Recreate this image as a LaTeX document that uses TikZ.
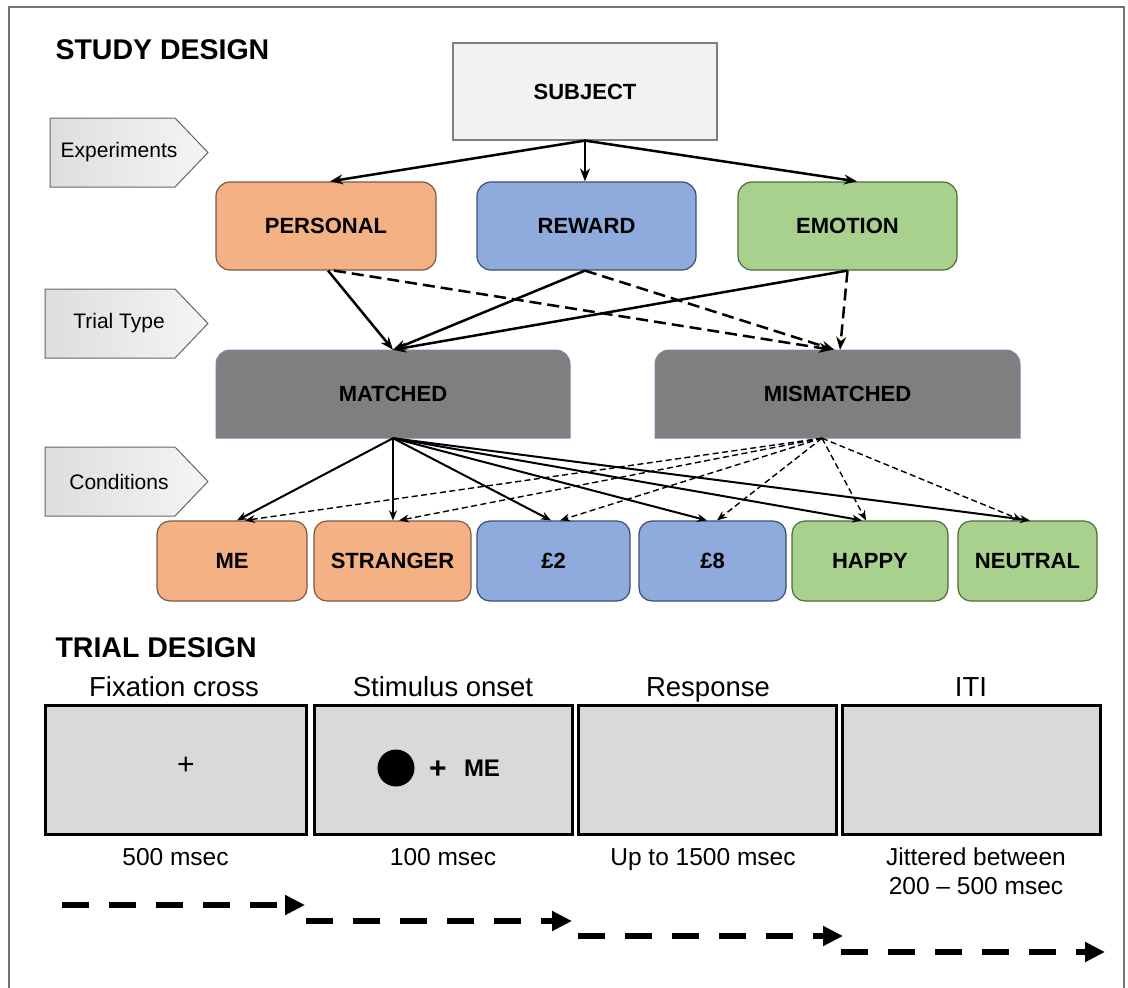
\documentclass[tikz,border=0pt]{standalone}
\usepackage{fontspec}
\setmainfont{Liberation Sans}
\usetikzlibrary{arrows.meta,positioning}

\definecolor{subjfill}{HTML}{F2F2F2}
\definecolor{persfill}{HTML}{F4B183}
\definecolor{rewfill}{HTML}{8FAADC}
\definecolor{emofill}{HTML}{A9D18E}
\definecolor{typefill}{HTML}{7F7F7F}
\definecolor{screenfill}{HTML}{D9D9D9}
\definecolor{persedge}{HTML}{7A5A44}
\definecolor{rewedge}{HTML}{3A4E75}
\definecolor{emoedge}{HTML}{4F6B3A}
\definecolor{typeedge}{HTML}{7388AB}

\begin{document}
\begin{tikzpicture}[x=1pt,y=-1pt]
\tikzset{
  boxtext/.style={font=\fontsize{22}{26}\selectfont\bfseries},
  exbox/.style={boxtext, draw, rounded corners=14pt, line width=1.2pt, minimum height=88pt, inner sep=0pt},
  condbox/.style={boxtext, draw, rounded corners=13pt, line width=1.2pt, minimum height=80pt, inner sep=0pt},
  sidetag/.style={draw=black!60, line width=1pt, left color=black!13, right color=black!4},
  screenbox/.style={draw, fill=screenfill, line width=3pt, minimum width=258pt, minimum height=129pt, inner sep=0pt},
  solidarr/.style={-{Stealth[length=13pt,width=10pt]}, line width=2.5pt},
  dasharr/.style={solidarr, dash pattern=on 12pt off 6pt},
  thinarr/.style={-{Stealth[length=10pt,width=8pt]}, line width=2pt},
  thindash/.style={thinarr, line width=1.4pt, dash pattern=on 6pt off 3.5pt},
  timearr/.style={-{Triangle[length=20pt,width=19pt]}, line width=6pt, dash pattern=on 27pt off 20pt},
  steplab/.style={anchor=base, font=\fontsize{27.5}{30}\selectfont},
  timelab/.style={anchor=base, font=\fontsize{24.5}{29}\selectfont},
  titletext/.style={anchor=base west, font=\fontsize{28.5}{32}\selectfont\bfseries}
}

\useasboundingbox (0,0) rectangle (1128,988);
\draw[black!55, line width=1.2pt] (9,1000) -- (9,7) -- (1124,7) -- (1124,1000);

\node[titletext] (studytitle) at (52,59) {STUDY DESIGN};
\node[titletext] (trialtitle) at (52,657) {TRIAL DESIGN};

\foreach \nm/\xl/\yt/\lab in {exp/50/118/Experiments, ttype/45/289/Trial Type, cond/45/447/Conditions}{
  \draw[sidetag] (\xl,\yt) -- (175,\yt) -- (208,\yt+34.5) -- (175,\yt+69) -- (\xl,\yt+69) -- cycle;
  \node[font=\fontsize{21}{25}\selectfont] (\nm) at (119,\yt+34.5) {\lab};
}

\node[exbox, fill=subjfill, draw=black!50, rounded corners=0pt, minimum width=264pt, minimum height=97pt] (subject) at (585,91.5) {SUBJECT};
\node[exbox, fill=persfill, draw=persedge, minimum width=220pt] (personal) at (326,226) {PERSONAL};
\node[exbox, fill=rewfill, draw=rewedge, minimum width=219pt] (reward) at (586.5,226) {REWARD};
\node[exbox, fill=emofill, draw=emoedge, minimum width=219pt] (emotion) at (847.5,226) {EMOTION};

\filldraw[fill=typefill, draw=typeedge, line width=1pt] (216,438) [rounded corners=14pt] -- (216,350) -- (570,350) [sharp corners] -- (570,438) -- cycle;
\filldraw[fill=typefill, draw=typeedge, line width=1pt] (655,438) [rounded corners=14pt] -- (655,350) -- (1020,350) [sharp corners] -- (1020,438) -- cycle;
\node[boxtext, minimum width=354pt, minimum height=88pt, inner sep=0pt] (matched) at (393,394) {MATCHED};
\node[boxtext, minimum width=365pt, minimum height=88pt, inner sep=0pt] (mismatched) at (837.5,394) {MISMATCHED};

\node[condbox, fill=persfill, draw=persedge, minimum width=150pt] (me) at (232,561) {ME};
\node[condbox, fill=persfill, draw=persedge, minimum width=157pt] (stranger) at (392.5,561) {STRANGER};
\node[condbox, fill=rewfill, draw=rewedge, minimum width=153pt] (two) at (553.5,561) {£2};
\node[condbox, fill=rewfill, draw=rewedge, minimum width=147pt] (eight) at (712.5,561) {£8};
\node[condbox, fill=emofill, draw=emoedge, minimum width=156pt] (happy) at (870,561) {HAPPY};
\node[condbox, fill=emofill, draw=emoedge, minimum width=139pt] (neutral) at (1027.5,561) {NEUTRAL};

\draw[solidarr] (subject.south) -- ([xshift=4pt]personal.north);
\draw[solidarr] (subject.south) -- ([xshift=-1.5pt]reward.north);
\draw[solidarr] (subject.south) -- ([xshift=9.5pt]emotion.north);

\draw[solidarr] ([xshift=2pt]personal.south) -- (matched.north);
\draw[dasharr] ([xshift=8pt]personal.south) -- ([xshift=-5.5pt]mismatched.north);
\draw[solidarr] ([xshift=-1.5pt]reward.south) -- (matched.north);
\draw[dasharr] ([xshift=-1.5pt]reward.south) -- ([xshift=-3pt]mismatched.north);
\draw[solidarr] (emotion.south) -- (matched.north);
\draw[dasharr] (emotion.south) -- ([xshift=2.5pt]mismatched.north);

\foreach \nm/\sa/\sb in {me/5/13, stranger/0.5/6.5, two/-2.5/6.5, eight/-5.5/4.5, happy/-8/-4, neutral/2.5/-5.5}{
  \draw[thinarr] (matched.south) -- ([xshift=\sa pt]\nm.north);
  \draw[thindash] ([xshift=-15.5pt]mismatched.south) -- ([xshift=\sb pt]\nm.north);
}

\node[screenbox, minimum width=261pt] (fixbox) at (175.5,769.5) {};
\node[screenbox] (stimbox) at (443,769.5) {};
\node[screenbox] (respbox) at (707,769.5) {};
\node[screenbox] (itibox) at (971,769.5) {};

\node[font=\fontsize{30}{34}\selectfont] (fixcross) at (186,766) {+};
\node[circle, fill=black, minimum size=37pt, inner sep=0pt] (dot) at (396,768) {};
\node[font=\fontsize{30}{34}\selectfont\bfseries] (stimcross) at (438,770) {+};
\node[font=\fontsize{24}{28}\selectfont\bfseries] (stimword) at (482,768) {ME};

\node[steplab] (fixlab) at (174,696) {Fixation cross};
\node[steplab] (stimlab) at (443,696) {Stimulus onset};
\node[steplab] (resplab) at (708,696) {Response};
\node[steplab] (itilab) at (971,696) {ITI};

\node[timelab] (fixtime) at (175.5,865) {500 msec};
\node[timelab] (stimtime) at (443,865) {100 msec};
\node[timelab] (resptime) at (703,865) {Up to 1500 msec};
\node[timelab] (ititime) at (976,865) {Jittered between};
\node[timelab] (itirange) at (976,894) {200 \textendash{} 500 msec};

\foreach \i/\xa/\xb/\yy in {1/62/305/905, 2/306/572/921, 3/578/843/936, 4/841/1105/952}{
  \coordinate (ts\i) at (\xa,\yy);
  \coordinate (te\i) at (\xb,\yy);
  \draw[timearr] (ts\i) -- (te\i);
}
\end{tikzpicture}
\end{document}
